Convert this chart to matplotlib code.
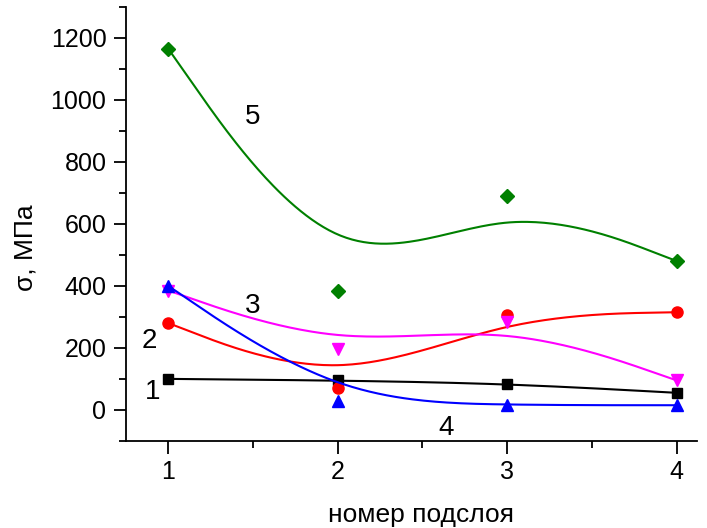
import numpy as np
import matplotlib
matplotlib.use('Agg')
from matplotlib import pyplot as plt
from matplotlib.ticker import MultipleLocator

plt.rcParams['font.family'] = ['Liberation Sans', 'DejaVu Sans']

x = [1, 2, 3, 4]
s1 = [100, 95, 85, 55]
s2 = [280, 70, 305, 315]
s3 = [385, 195, 285, 95]
s4 = [400, 30, 15, 15]
s5 = [1165, 385, 690, 480]

colors = ['black', '#ff0000', '#ff00ff', '#0000ff', '#008000']
markers = ['s', 'o', 'v', '^', 'D']
msizes = [7, 8, 8, 8, 7]

labels = ['1', '2', '3', '4', '5']
label_pos = [(0.91, 58), (0.89, 223), (1.5, 336), (2.64, -58), (1.5, 945)]


def bspline(px, py, n=60):
    # uniform cubic B-spline, end points repeated so the curve hits them
    px = np.r_[px[0], px[0], px, px[-1], px[-1]].astype(float)
    py = np.r_[py[0], py[0], py, py[-1], py[-1]].astype(float)
    t = np.linspace(0, 1, n)
    b0 = (1 - t) ** 3 / 6
    b1 = (3 * t**3 - 6 * t**2 + 4) / 6
    b2 = (-3 * t**3 + 3 * t**2 + 3 * t + 1) / 6
    b3 = t**3 / 6
    xs, ys = [], []
    for i in range(len(px) - 3):
        xs.append(b0 * px[i] + b1 * px[i+1] + b2 * px[i+2] + b3 * px[i+3])
        ys.append(b0 * py[i] + b1 * py[i+1] + b2 * py[i+2] + b3 * py[i+3])
    return np.concatenate(xs), np.concatenate(ys)


fig = plt.figure(figsize=(7.07, 5.28), dpi=100)
ax = fig.add_axes([0.178, 0.165, 0.808, 0.822])

for s, c, m, ms in zip([s1, s2, s3, s4, s5], colors, markers, msizes):
    cx, cy = bspline(np.array(x), np.array(s))
    ax.plot(cx, cy, color=c, lw=1.5)
    ax.plot(x, s, ls='none', marker=m, color=c, ms=ms)

for lab, (lx, ly) in zip(labels, label_pos):
    ax.text(lx, ly, lab, fontsize=20, ha='center', va='center')

ax.set_xlim(0.75, 4.12)
ax.set_ylim(-100, 1300)
ax.xaxis.set_major_locator(MultipleLocator(1))
ax.xaxis.set_minor_locator(MultipleLocator(0.5))
ax.yaxis.set_major_locator(MultipleLocator(200))
ax.yaxis.set_minor_locator(MultipleLocator(100))
ax.spines['top'].set_visible(False)
ax.spines['right'].set_visible(False)
ax.spines['left'].set_linewidth(1.3)
ax.spines['bottom'].set_linewidth(1.3)
ax.tick_params(which='major', length=9, width=1.3, labelsize=18, pad=5)
ax.tick_params(which='minor', length=5, width=1.3)

fig.text(0.596, 0.012, 'номер подслоя', fontsize=19, ha='center', va='baseline')
fig.text(0.036, 1 - 248 / 528, 'σ, МПа', fontsize=19, rotation=90,
         ha='center', va='center')

fig.savefig('out.png', dpi=100)
